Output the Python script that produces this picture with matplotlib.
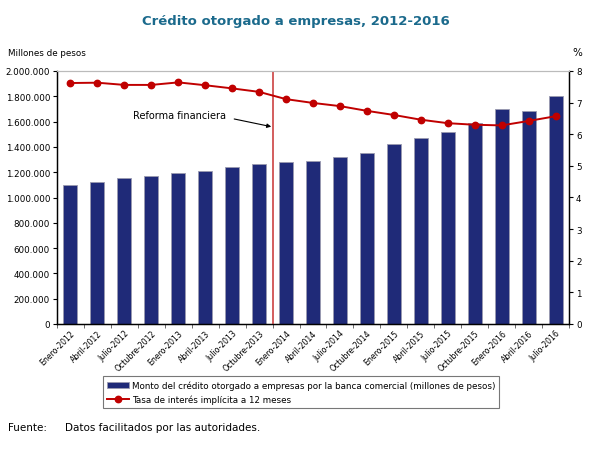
import numpy as np
import matplotlib
matplotlib.use("Agg")
import matplotlib.pyplot as plt

periods = ["Enero-2012", "Abril-2012", "Julio-2012", "Octubre-2012",
           "Enero-2013", "Abril-2013", "Julio-2013", "Octubre-2013",
           "Enero-2014", "Abril-2014", "Julio-2014", "Octubre-2014",
           "Enero-2015", "Abril-2015", "Julio-2015", "Octubre-2015",
           "Enero-2016", "Abril-2016", "Julio-2016"]

# monto del credito (millones de pesos)
credito = [1100000, 1120000, 1152000, 1168000, 1191000, 1207000, 1244000,
           1265000, 1278000, 1286000, 1318000, 1349000, 1423000, 1473000,
           1515000, 1586000, 1702000, 1684000, 1802000]

# tasa de interes implicita a 12 meses (%)
tasa = [7.62, 7.63, 7.56, 7.56, 7.64, 7.55, 7.45, 7.34, 7.11, 6.99, 6.89,
        6.74, 6.61, 6.46, 6.35, 6.30, 6.28, 6.42, 6.57]

left_ticks = np.arange(0, 2000001, 200000)
reform_pos = 7.5  # entre Octubre-2013 y Enero-2014

navy = "#1F2A78"
red = "#C00000"

fig = plt.figure(figsize=(5.92, 4.52), dpi=100)
ax = fig.add_axes([57 / 592, 1 - 325 / 452, 512 / 592, 253 / 452])
x = np.arange(len(periods))

ax.bar(x, credito, width=0.52, color=navy, edgecolor="#9A9AB0",
       linewidth=0.6, zorder=2,
       label="Monto del crédito otorgado a empresas por la banca comercial (millones de pesos)")
ax.set_xlim(-0.5, len(periods) - 0.5)
ax.set_ylim(0, 2000000)
ax.set_yticks(left_ticks)
ax.set_yticklabels([f"{v:,.0f}".replace(",", ".") for v in left_ticks])
ax.tick_params(axis="y", labelsize=6.3, length=3, width=0.8, pad=2)

ax.set_xticks(np.arange(-0.5, len(periods), 1), minor=False)
ax.set_xticklabels([])
ax.set_xticks(x, minor=True)
ax.set_xticklabels(periods, minor=True, rotation=45, ha="right",
                   rotation_mode="anchor", fontsize=5.6)
ax.tick_params(axis="x", which="major", length=3, width=0.6, color="#555555")
ax.tick_params(axis="x", which="minor", length=0, pad=3)

ax.axvline(reform_pos, color="#D05050", linewidth=1.3, zorder=4)

ax2 = ax.twinx()
ax2.plot(x, tasa, color=red, linewidth=1.4, marker="o", markersize=4.6,
         zorder=5, label="Tasa de interés implícita a 12 meses")
ax2.set_ylim(0, 8)
ax2.set_yticks(range(0, 9))
ax2.tick_params(axis="y", labelsize=6.3, length=3, width=0.8, pad=2)

for a in (ax, ax2):
    a.spines["top"].set_color("#BBBBBB")
    a.spines["top"].set_linewidth(0.8)
    a.spines["left"].set_linewidth(0.9)
    a.spines["right"].set_linewidth(0.9)
    a.spines["bottom"].set_linewidth(0.9)

ax.annotate("Reforma financiera", xy=(reform_pos - 0.05, 1560000),
            xytext=(2.32, 1650000), fontsize=7, va="center", ha="left",
            arrowprops=dict(arrowstyle="-|>", color="black", lw=0.8,
                            mutation_scale=6, shrinkA=4, shrinkB=0,
                            relpos=(1, 0.3)))

fig.text(8 / 592, 1 - 56 / 452, "Millones de pesos", fontsize=6.3)
fig.text(577 / 592, 1 - 56 / 452, "%", fontsize=7.5, ha="center")
fig.text(296 / 592, 1 - 22 / 452, "Crédito otorgado a empresas, 2012-2016",
         fontsize=9.5, fontweight="bold", color="#1B6A8C", ha="center", va="center")

h1, l1 = ax.get_legend_handles_labels()
h2, l2 = ax2.get_legend_handles_labels()
leg = fig.legend(h1 + h2, l1 + l2, loc="center",
                 bbox_to_anchor=(301 / 592, 1 - 393 / 452), fontsize=6.3,
                 frameon=True, fancybox=False, edgecolor="#555555",
                 handlelength=2.6, handletextpad=0.3, borderpad=0.45,
                 labelspacing=0.5)
leg.get_frame().set_linewidth(0.8)

fig.text(8 / 592, 1 - 428 / 452, "Fuente:", fontsize=7.5, va="center")
fig.text(65 / 592, 1 - 428 / 452, "Datos facilitados por las autoridades.",
         fontsize=7.5, va="center")

fig.savefig("out.png", dpi=100)
